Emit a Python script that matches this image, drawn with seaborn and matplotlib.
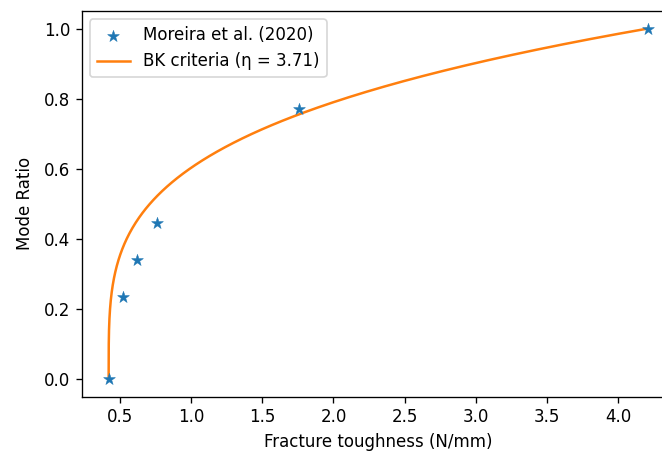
import numpy as np
import pandas as pd
import matplotlib
matplotlib.use("Agg")
import matplotlib.pyplot as plt
import seaborn as sns

# Experimental fracture toughness vs. mode ratio (Moreira et al. 2020)
toughness = [0.42, 0.52, 0.62, 0.76, 1.76, 4.21]
mode_ratio = [0.0, 0.235, 0.34, 0.445, 0.77, 1.0]

# Benzeggagh-Kenane criterion parameters
G_Ic = 0.42
G_IIc = 4.21
eta = 3.71

exp_df = pd.DataFrame({"G": toughness, "B": mode_ratio})

B = np.linspace(0.0, 1.0, 400)
bk_df = pd.DataFrame({"B": B, "G": G_Ic + (G_IIc - G_Ic) * B ** eta})

fig = plt.figure(figsize=(662 / 120, 453 / 120), dpi=120)
ax = fig.add_axes([0.1234, 0.1243, 0.896, 0.8514])

sns.scatterplot(data=exp_df, x="G", y="B", marker="*", s=55, color="C0",
                edgecolor="C0", linewidth=0.3, label="Moreira et al. (2020)",
                ax=ax, zorder=3)
sns.lineplot(data=bk_df, x="G", y="B", sort=False, estimator=None,
             color="C1", linewidth=1.5, label="BK criteria (\u03b7 = 3.71)",
             ax=ax, zorder=2)

ax.set_xlabel("Fracture toughness (N/mm)")
ax.set_ylabel("Mode Ratio", labelpad=6)
ax.set_xticks([0.5, 1.0, 1.5, 2.0, 2.5, 3.0, 3.5, 4.0])
ax.set_yticks([0.0, 0.2, 0.4, 0.6, 0.8, 1.0])
ax.legend(loc="upper left")

fig.savefig("out.png", dpi=120)
